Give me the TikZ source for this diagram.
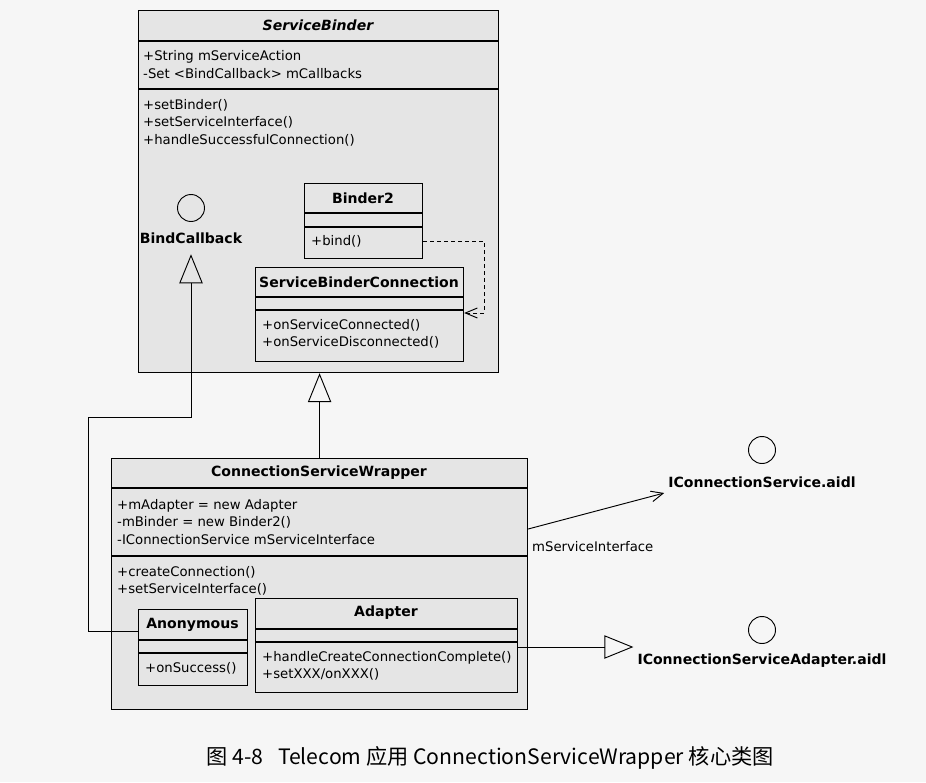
\documentclass[tikz,border=0pt]{standalone}
\usepackage{fontspec}
\setmainfont{DejaVu Sans}
\newfontfamily\cjk{Noto Sans CJK SC}
\usetikzlibrary{arrows.meta, calc}

\definecolor{fondpage}{RGB}{246,246,246}
\definecolor{fondclasse}{RGB}{229,229,229}
\newcommand{\unitpx}{0.03cm}

\tikzset{
  classe/.style={draw, fill=fondclasse, line width=1pt, inner sep=0pt, anchor=north west},
  separ/.style={line width=1pt},
  titre/.style={font=\bfseries\fontsize{12}{14}\selectfont},
  membres/.style={anchor=west, align=left, inner sep=0pt, font=\fontsize{11.3}{15}\selectfont},
  interface/.style={circle, draw, line width=0.8pt, minimum size=27*\unitpx, inner sep=0pt},
  herite/.style={line width=0.8pt, -{Triangle[open, length=8.7mm, width=7mm]}},
  depend/.style={line width=0.8pt, dash pattern=on 1.2mm off 0.9mm, -{Straight Barb[length=3.6mm, width=3mm]}},
  assoc/.style={line width=0.8pt, -{Straight Barb[length=3.6mm, width=3.2mm]}},
}

\begin{document}
\begin{tikzpicture}[x=\unitpx, y=-\unitpx]
  % Fond de la page
  \fill[fondpage] (0,0) rectangle (926,782);
  \useasboundingbox (0,0) rectangle (926,782);

  % Classe ServiceBinder
  \node[classe, minimum width=360*\unitpx, minimum height=362*\unitpx] (SB) at (138,10) {};
  \node[titre, font=\bfseries\itshape\fontsize{12}{14}\selectfont] (SBt) at (318,25.5) {ServiceBinder};
  \draw[separ] (SB.north west) ++(0,31) -- ++(360,0);
  \draw[separ] (SB.north west) ++(0,79) -- ++(360,0);
  \node[membres] (SBa) at (143,64.5) {+String mServiceAction\\-Set <BindCallback> mCallbacks};
  \node[membres] (SBm) at (143,122.5) {+setBinder()\\+setServiceInterface()\\+handleSuccessfulConnection()};

  % Interface BindCallback
  \node[interface] (BCc) at (191,208) {};
  \node[titre] (BC) at (191,238) {BindCallback};

  % Classe Binder2
  \node[classe, minimum width=118*\unitpx, minimum height=75*\unitpx] (B2) at (304,183) {};
  \node[titre] (B2t) at (363,198) {Binder2};
  \draw[separ] (B2.north west) ++(0,30) -- ++(118,0);
  \draw[separ] (B2.north west) ++(0,44) -- ++(118,0);
  \node[membres] (B2m) at (311,241) {+bind()};

  % Classe ServiceBinderConnection
  \node[classe, minimum width=208*\unitpx, minimum height=94*\unitpx] (SBC) at (255,267) {};
  \node[titre] (SBCt) at (359,282) {ServiceBinderConnection};
  \draw[separ] (SBC.north west) ++(0,30) -- ++(208,0);
  \draw[separ] (SBC.north west) ++(0,43) -- ++(208,0);
  \node[membres] (SBCm) at (262,334) {+onServiceConnected()\\+onServiceDisconnected()};

  % Classe ConnectionServiceWrapper
  \node[classe, minimum width=416*\unitpx, minimum height=251*\unitpx] (CSW) at (111,458) {};
  \node[titre] (CSWt) at (319,473) {ConnectionServiceWrapper};
  \draw[separ] (CSW.north west) ++(0,30) -- ++(416,0);
  \draw[separ] (CSW.north west) ++(0,98) -- ++(416,0);
  \node[membres] (CSWa) at (117,522) {+mAdapter = new Adapter\\-mBinder = new Binder2()\\-IConnectionService mServiceInterface};
  \node[membres] (CSWm) at (117,581) {+createConnection()\\+setServiceInterface()};

  % Classe Anonymous
  \node[classe, minimum width=109*\unitpx, minimum height=76*\unitpx] (An) at (138,609) {};
  \node[titre] (Ant) at (192.5,625) {Anonymous};
  \draw[separ] (An.north west) ++(0,31) -- ++(109,0);
  \draw[separ] (An.north west) ++(0,44) -- ++(109,0);
  \node[membres] (Anm) at (145,668) {+onSuccess()};

  % Classe Adapter
  \node[classe, minimum width=262*\unitpx, minimum height=94*\unitpx] (Ad) at (255,598) {};
  \node[titre] (Adt) at (386,613) {Adapter};
  \draw[separ] (Ad.north west) ++(0,31) -- ++(262,0);
  \draw[separ] (Ad.north west) ++(0,44) -- ++(262,0);
  \node[membres] (Adm) at (262,666) {+handleCreateConnectionComplete()\\+setXXX/onXXX()};

  % Interfaces AIDL
  \node[interface] (ICSc) at (762,450) {};
  \node[titre] (ICS) at (762,482) {IConnectionService.aidl};
  \node[interface] (ICSAc) at (762,630) {};
  \node[titre] (ICSA) at (762,661) {IConnectionServiceAdapter.aidl};

  % Anonymous implemente BindCallback
  \coordinate (anG) at ($(An.north west)+(0,22)$);
  \draw[herite, shorten >=2mm] (anG) -| (88,417) -| (BC.south);

  % ConnectionServiceWrapper herite de ServiceBinder
  \draw[herite] (CSW.north) -- (CSW.north |- SB.south);

  % Binder2 utilise ServiceBinderConnection
  \coordinate (sbcD) at ($(SBC.north east)+(0,46)$);
  \draw[depend] (B2.east |- B2m) -- ++(61,0) |- (sbcD);

  % Association mServiceInterface
  \coordinate (cswD) at ($(CSW.north east)+(0,71)$);
  \draw[assoc] (cswD) -- ($(ICS.west)+(0,11)$);
  \node[membres] (lienSI) at (532,547) {mServiceInterface};

  % Adapter implemente IConnectionServiceAdapter
  \coordinate (adD) at ($(Ad.north east)+(0,49)$);
  \draw[herite] (adD) -- (adD -| ICSA.west);

  % Legende
  \node[font=\cjk\fontsize{18.1}{21}\selectfont] (leg) at (490,758) {图 4-8\hspace{0.7em}Telecom 应用 ConnectionServiceWrapper 核心类图};
\end{tikzpicture}
\end{document}
